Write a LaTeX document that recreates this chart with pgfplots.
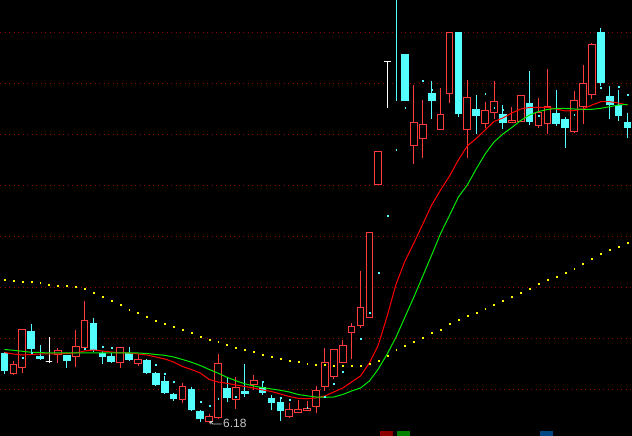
\documentclass[border=0pt]{standalone}
\usepackage{pgfplots}
\pgfplotsset{compat=1.18}
\usepackage{pgfplotstable}
\usepgfplotslibrary{statistics}
\usetikzlibrary{arrows.meta}
\usepackage{fontspec}
\setmainfont{Liberation Sans}

\definecolor{cred}{RGB}{255,60,60}
\definecolor{ccyan}{RGB}{84,255,255}
\definecolor{mared}{RGB}{255,0,0}
\definecolor{magreen}{RGB}{0,235,0}
\definecolor{gridred}{RGB}{150,0,0}
\definecolor{myellow}{RGB}{255,255,0}
\definecolor{lblgray}{RGB}{200,200,200}
\definecolor{boxred}{RGB}{140,0,0}
\definecolor{boxgreen}{RGB}{0,130,0}
\definecolor{boxblue}{RGB}{0,70,130}

% candles: t = 0 down (cyan), 1 up (red hollow), 2 doji (white), 3 thin cyan
\pgfplotstableread{
i t lw lq uq uw
0 0 62 65 82 84
1 1 61 62 71 75
2 1 63 68 106 106
3 0 82 87 104 112
4 0 76 77 79 91
5 2 73 74 74 99
6 1 73 81 85 88
7 0 68 75 80 81
8 1 69 79 89 106
9 1 86 88 115 135
10 0 84 86 112 118
11 0 72 79 82 85
12 0 73 74 79 83
13 1 68 73 88 89
14 0 75 76 82 89
15 1 70 72 76 82
16 0 62 63 75 77
17 0 50 51 62 64
18 0 42 43 54 60
19 0 35 37 41 43
20 1 33 36 49 53
21 0 25 26 46 49
22 0 14 17 24 26
23 1 13 14 19 22
24 1 17 18 72 82
25 0 36 38 47 58
26 1 27 36 48 59
27 0 39 42 44 72
28 1 46 51 55 61
29 0 41 43 48 53
30 0 26 33 37 41
31 0 15 25 33 38
32 1 18 19 26 33
33 1 23 23 26 36
34 1 25 25 27 35
35 1 23 29 45 50
36 1 45 49 73 88
37 1 57 59 86 87
38 1 73 73 90 96
39 1 77 103 109 113
40 1 108 110 128 165
41 1 118 118 203 203
42 1 251 251 284 284
43 2 328 374 374 374
44 3 335 335 335 470
45 0 335 335 381 381
46 1 272 290 313 351
47 1 278 297 311 336
48 0 317 335 342 355
49 1 306 306 321 348
50 1 333 342 403 403
51 0 319 322 403 404
52 1 278 306 338 356
53 0 302 320 326 341
54 1 308 312 325 334
55 1 317 323 334 355
56 0 307 313 321 331
57 1 313 313 315 329
58 1 314 314 340 340
59 0 311 314 332 365
60 1 308 310 323 338
61 1 302 312 329 367
62 0 310 312 322 346
63 0 288 308 316 319
64 1 303 304 335 345
65 1 312 329 352 371
66 1 337 341 391 393
67 0 350 353 403 408
68 0 317 331 339 350
69 0 315 320 330 346
70 0 298 308 313 323
}\candles

% moving averages: r (short, red), g (green), y (long, yellow dots)
\pgfplotstableread{
i r g y
0 83.5 86.5 156.7
1 82 85.7 155
2 81 84.7 154.5
3 81.5 83.7 154
4 82 83.5 153
5 82 83 151.5
6 82 83 150.5
7 82.5 83 150
8 83 83 149
9 85 83 147
10 86 83 143
11 85 83 139
12 84 83 135
13 83 83 131
14 83 83 126
15 82 83 123
16 81 82.5 119
17 79 81.5 115
18 77 80.7 112
19 74 79 109
20 69.5 76.5 106
21 66.5 73.8 103
22 63 70.5 99
23 56.5 66.5 96
24 54 62.8 94
25 52.7 58.7 91
26 51 55.2 88
27 49.5 52.2 86
28 48 50 84
29 46 48.4 81
30 44.5 47 79
31 42 45.7 77
32 39.5 44 75
33 37.7 41.5 74
34 37.2 40.2 72
35 38 39 71
36 40 38.7 71
37 44 39 70
38 48 41.5 70
39 54 45 70
40 60 48 70
41 73 55 72
42 91 67 75
43 120 82 80
44 152 99 86
45 175 119 90
46 193 139 94
47 212 160 98
48 231 181 103
49 246 202.5 106
50 260 220.6 112
51 276 239 116
52 290 251 120
53 297.5 267 123
54 306 282 127
55 314.5 294 131
56 318 302 135
57 323 308.5 139
58 327 315.5 143
59 328.5 321 147
60 328.7 324.5 152
61 328.7 326.5 156
62 327 327.5 159
63 325 327.5 163
64 325.5 327 167
65 327 326.7 172
66 331 326.7 177
67 334.3 327.7 182
68 334.3 329.3 186
69 333 331 189
70 331 331.5 193
}\mas

% small cyan indicator dots
\pgfplotstableread{
i v
0 71
2 78
3 83
9 87
10 90
11 89
12 88
14 80
17 71
18 62
19 54
21 40
22 34
23 30
24 37
25 35
26 39
29 54
31 38
32 36
34 28
36 39
37 52
38 64
40 97
41 123
42 163
43 220
44 286
45 328
47 355
48 346
51 338
54 342
55 328
56 326
59 323
60 320
64 321
67 348
69 349
70 341
}\cyandots

\begin{document}
\begin{tikzpicture}
\begin{axis}[
  width=632pt, height=436pt, scale only axis,
  xmin=-0.5056, xmax=70.506, ymin=0, ymax=436,
  axis background/.style={fill=black},
  axis line style={draw=none},
  xtick=\empty,
  ytick={46,97,148,199,250,301,352,403},
  yticklabel=\empty,
  major tick length=0pt,
  tick style={draw=none},
  ymajorgrids,
  grid style={gridred, line width=1pt, dash pattern=on 1pt off 3.5pt},
  clip=true,
  boxplot/draw direction=y,
  boxplot/box extend=0.75,
  boxplot/whisker extend=0,
]
% long MA (yellow dots)
\addplot[only marks, mark=square*, mark size=0.45pt, myellow,
  mark options={line width=0.2pt}] table[x=i, y=y] {\mas};

% candles
\pgfplotsinvokeforeach{0,...,70}{
  \pgfplotstablegetelem{#1}{t}\of\candles
  \ifcase\pgfplotsretval\relax
    \def\cst{draw=ccyan, fill=ccyan}%
  \or
    \def\cst{draw=cred, fill=black}%
  \or
    \def\cst{draw=white}%
  \or
    \def\cst{draw=ccyan, boxplot/box extend=0.001}%
  \fi
  \pgfplotstablegetelem{#1}{lw}\of\candles \let\clw\pgfplotsretval
  \pgfplotstablegetelem{#1}{lq}\of\candles \let\clq\pgfplotsretval
  \pgfplotstablegetelem{#1}{uq}\of\candles \let\cuq\pgfplotsretval
  \pgfplotstablegetelem{#1}{uw}\of\candles \let\cuw\pgfplotsretval
  \edef\doit{\noexpand\addplot[\cst, line width=1pt,
      boxplot prepared={draw position=#1, lower whisker=\clw,
        lower quartile=\clq, median=\clq, upper quartile=\cuq,
        upper whisker=\cuw}] coordinates {};}%
  \doit
}

% moving averages
\addplot[mared, line width=1pt, mark=none] table[x=i, y=r] {\mas};
\addplot[magreen, line width=1pt, mark=none] table[x=i, y=g] {\mas};

% cyan indicator dots
\addplot[only marks, mark=square*, mark size=0.4pt, ccyan,
  mark options={line width=0.2pt}] table[x=i, y=v] {\cyandots};

% low annotation
\draw[lblgray, line width=0.9pt, -{Straight Barb[length=2pt,width=4pt]}]
  (axis cs:24.4,12) -- (axis cs:23.4,12) -- (axis cs:23.05,14.8);
\node[anchor=west, text=lblgray, inner sep=0pt, font=\fontsize{12}{12}\selectfont]
  at (axis cs:24.55,12.5) {6.18};

% bottom markers
\fill[boxred] (axis cs:42.19,-6) rectangle (axis cs:43.65,5);
\fill[boxgreen] (axis cs:44.1,-6) rectangle (axis cs:45.56,5);
\fill[boxblue] (axis cs:60.17,-6) rectangle (axis cs:61.63,5);
\end{axis}
\pgfresetboundingbox
\path[use as bounding box] (current axis.south west) rectangle (current axis.north east);
\end{tikzpicture}
\end{document}
